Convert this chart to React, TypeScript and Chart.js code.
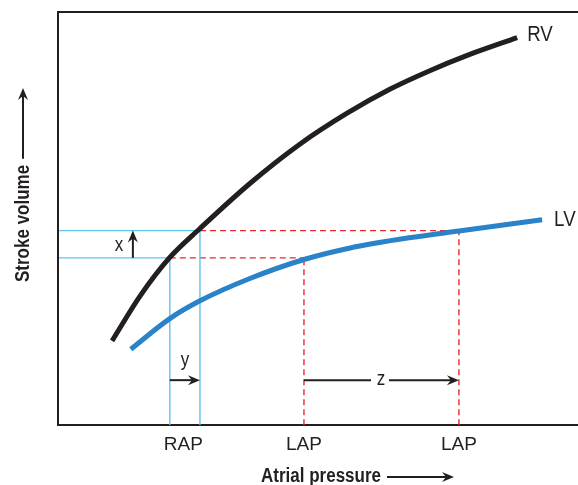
import { useEffect, useRef } from 'react';
import { Chart, registerables } from 'chart.js';

Chart.register(...registerables);

// ---- data (arbitrary units: pressure 0..100, stroke volume 0..100) ----
const rvPressure = [10.4, 15.8, 21.5, 27.3, 36.9, 46.5, 55.6, 63.8, 71.5, 78.7, 88.3];
const rvVolume = [20.4, 31.3, 40.6, 47.6, 58.5, 68.0, 75.5, 81.3, 85.8, 89.5, 93.8];
const lvPressure = [14.0, 21.5, 27.3, 36.9, 47.3, 56.2, 68.3, 77.1, 93.1];
const lvVolume = [18.4, 25.8, 30.1, 35.5, 40.1, 42.9, 45.5, 47.0, 49.7];

const rapLow = 21.5;
const rapHigh = 27.3;
const lapLow = 47.3;
const lapHigh = 77.1;
const svLow = 40.5;
const svHigh = 47.1;

const tickValues = [24.1, 47.3, 77.1];
const tickLabels = ['RAP', 'LAP', 'LAP'];
const curveLabels = ['RV', 'LV'];
const xArrowPressure = 14.4;
const yzArrowVolume = 10.9;
const axisTitleX = 'Atrial pressure';
const axisTitleY = 'Stroke volume';

const INK = '#231f20';
const BLUE = '#2a83c8';
const CYAN = '#5cc6ef';
const RED = '#e8262f';
const FONT = "'Liberation Sans', Arial, sans-serif";
const SQUEEZE = 0.85;

const pts = (xs: number[], ys: number[]) => xs.map((x, i) => ({ x, y: ys[i] }));

function arrow(ctx: CanvasRenderingContext2D, x1: number, y1: number, x2: number, y2: number) {
  const ang = Math.atan2(y2 - y1, x2 - x1);
  const c = Math.cos(ang);
  const s = Math.sin(ang);
  const L = 12;
  const W = 5;
  ctx.beginPath();
  ctx.moveTo(x1, y1);
  ctx.lineTo(x2 - c * 5, y2 - s * 5);
  ctx.stroke();
  const nx = -s;
  const ny = c;
  const bx = x2 - c * L;
  const by = y2 - s * L;
  ctx.beginPath();
  ctx.moveTo(x2, y2);
  ctx.lineTo(bx + nx * W, by + ny * W);
  ctx.lineTo(x2 - c * 8, y2 - s * 8);
  ctx.lineTo(bx - nx * W, by - ny * W);
  ctx.closePath();
  ctx.fill();
}

// text drawn narrow (condensed look)
function text(ctx: CanvasRenderingContext2D, str: string, x: number, y: number, align: CanvasTextAlign) {
  ctx.save();
  ctx.translate(x, y);
  ctx.scale(SQUEEZE, 1);
  ctx.textAlign = align;
  ctx.fillText(str, 0, 0);
  const w = ctx.measureText(str).width * SQUEEZE;
  ctx.restore();
  return w;
}

const overlay = {
  id: 'overlay',
  afterDraw(chart: any) {
    const { ctx, chartArea: a, scales } = chart;
    const X = (v: number) => scales.x.getPixelForValue(v);
    const Y = (v: number) => scales.y.getPixelForValue(v);
    ctx.save();
    // frame (left and top)
    ctx.strokeStyle = INK;
    ctx.lineWidth = 2;
    ctx.beginPath();
    ctx.moveTo(a.left, a.bottom);
    ctx.lineTo(a.left, a.top);
    ctx.lineTo(a.right + 2, a.top);
    ctx.stroke();

    ctx.fillStyle = INK;
    ctx.strokeStyle = INK;
    ctx.lineWidth = 2;
    // x arrow
    arrow(ctx, X(xArrowPressure), Y(svLow), X(xArrowPressure), Y(svHigh));
    // y arrow
    arrow(ctx, X(rapLow), Y(yzArrowVolume), X(rapHigh), Y(yzArrowVolume));
    // z arrow with a gap for its letter
    const zMid = 381;
    ctx.beginPath();
    ctx.moveTo(X(lapLow), Y(yzArrowVolume));
    ctx.lineTo(zMid - 10, Y(yzArrowVolume));
    ctx.stroke();
    arrow(ctx, zMid + 8, Y(yzArrowVolume), X(lapHigh), Y(yzArrowVolume));

    ctx.font = `20px ${FONT}`;
    ctx.textBaseline = 'middle';
    text(ctx, 'x', X(xArrowPressure) - 14, (Y(svLow) + Y(svHigh)) / 2 + 1, 'center');
    text(ctx, 'y', (X(rapLow) + X(rapHigh)) / 2, Y(yzArrowVolume) - 20, 'center');
    text(ctx, 'z', zMid, Y(yzArrowVolume) - 1, 'center');

    // curve labels
    ctx.font = `22px ${FONT}`;
    text(ctx, curveLabels[0], X(rvPressure[rvPressure.length - 1]) + 10, Y(rvVolume[rvVolume.length - 1]) - 3, 'left');
    text(ctx, curveLabels[1], X(lvPressure[lvPressure.length - 1]) + 12, Y(lvVolume[lvVolume.length - 1]), 'left');

    // axis titles
    ctx.font = `bold 20px ${FONT}`;
    const tx = 261;
    const ty = 476;
    const tw = text(ctx, axisTitleX, tx, ty, 'left');
    arrow(ctx, tx + tw + 6, ty + 1, 454, ty + 1);

    ctx.save();
    ctx.translate(23, 282);
    ctx.rotate(-Math.PI / 2);
    const tw2 = text(ctx, axisTitleY, 0, 0, 'left');
    ctx.restore();
    arrow(ctx, 23, 282 - tw2 - 6, 23, 88);
    ctx.restore();
  },
};

export default function App() {
  const ref = useRef<HTMLCanvasElement>(null);
  useEffect(() => {
    const guide = (data: { x: number; y: number }[], color: string, dashed: boolean) => ({
      data,
      borderColor: color,
      borderWidth: 1.4,
      borderDash: dashed ? [6, 4] : [],
      pointRadius: 0,
      showLine: true,
      fill: false,
      order: 5,
    });
    const curve = (data: { x: number; y: number }[], color: string) => ({
      data,
      borderColor: color,
      borderWidth: 5,
      pointRadius: 0,
      showLine: true,
      cubicInterpolationMode: 'monotone',
      order: 1,
    });
    const chart = new Chart(ref.current!, {
      type: 'scatter',
      data: {
        datasets: [
          curve(pts(rvPressure, rvVolume), INK),
          curve(pts(lvPressure, lvVolume), BLUE),
          guide([{ x: 0, y: svHigh }, { x: rapHigh, y: svHigh }], CYAN, false),
          guide([{ x: 0, y: svLow }, { x: rapLow, y: svLow }], CYAN, false),
          guide([{ x: rapLow, y: 0 }, { x: rapLow, y: svLow }], CYAN, false),
          guide([{ x: rapHigh, y: 0 }, { x: rapHigh, y: svHigh }], CYAN, false),
          guide([{ x: rapHigh, y: svHigh }, { x: lapHigh, y: svHigh }], RED, true),
          guide([{ x: rapLow, y: svLow }, { x: lapLow, y: svLow }], RED, true),
          guide([{ x: lapLow, y: 0 }, { x: lapLow, y: svLow }], RED, true),
          guide([{ x: lapHigh, y: 0 }, { x: lapHigh, y: svHigh }], RED, true),
        ],
      },
      options: {
        responsive: false,
        animation: false,
        devicePixelRatio: 1,
        layout: { padding: { left: 58, top: 12, right: 0, bottom: 21 } },
        plugins: { legend: { display: false }, tooltip: { enabled: false } },
        scales: {
          x: {
            type: 'linear',
            min: 0,
            max: 100,
            grid: { display: false, drawTicks: false },
            border: { display: true, color: INK, width: 2 },
            afterBuildTicks: (s: any) => {
              s.ticks = tickValues.map((v) => ({ value: v }));
            },
            ticks: {
              autoSkip: false,
              maxRotation: 0,
              padding: 8,
              color: INK,
              font: { family: FONT, size: 19 },
              callback: (_v: any, i: number) => tickLabels[i],
            },
          },
          y: { type: 'linear', min: 0, max: 100, display: false },
        },
      },
      plugins: [overlay],
    } as any);
    return () => chart.destroy();
  }, []);
  return (
    <div style={{ position: 'fixed', left: 0, top: 0, width: 578, height: 485, background: '#fff' }}>
      <canvas ref={ref} width={578} height={485} style={{ display: 'block' }} />
    </div>
  );
}
